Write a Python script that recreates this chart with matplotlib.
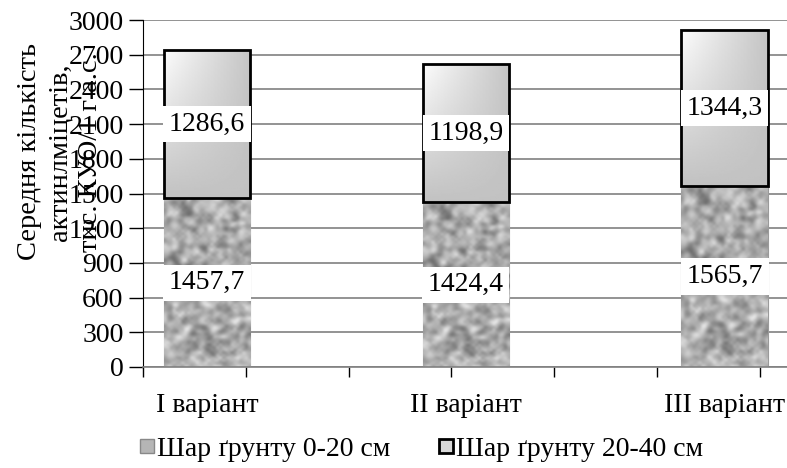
import numpy as np
import matplotlib
matplotlib.use("Agg")
import matplotlib.pyplot as plt
from matplotlib.lines import Line2D

plt.rcParams['font.family'] = ['Liberation Serif', 'DejaVu Serif']

categories = ['I варіант', 'II варіант', 'III варіант']
layer_0_20 = [1457.7, 1424.4, 1565.7]
layer_20_40 = [1286.6, 1198.9, 1344.3]
labels_0_20 = ['1457,7', '1424,4', '1565,7']
labels_20_40 = ['1286,6', '1198,9', '1344,3']
legend_names = ['Шар ґрунту 0-20 см', 'Шар ґрунту 20-40 см']

W, H = 787, 468
fig = plt.figure(figsize=(W / 100, H / 100), dpi=100)
ax = fig.add_axes([143 / W, 1 - 367 / H, (787 - 143) / W, (367 - 20) / H])

x = np.arange(len(categories))
width = 0.335

# granite-like texture for the lower layer (decoration only)
rng = np.random.default_rng(7)
tex = rng.random((64, 30))
tex = (tex + np.roll(tex, 1, 0) + np.roll(tex, -1, 0)
       + np.roll(tex, 1, 1) + np.roll(tex, -1, 1)) / 5
tex = (tex - tex.min()) / (tex.max() - tex.min())
tex = 0.36 + 0.6 * tex

# gradient for the upper layer: white top-left, grey lower down
gx = np.linspace(0, 1, 60)[None, :]
gy = np.linspace(0, 1, 100)[:, None]
top_row = 0.99 - 0.22 * gx
grad = top_row * (1 - gy) + 0.76 * gy

bars_low = ax.bar(x, layer_0_20, width, color='#a8a8a8', edgecolor='#9a9a9a',
                  linewidth=0.8, zorder=2)
bars_up = ax.bar(x, layer_20_40, width, bottom=layer_0_20, color='#c8c8c8',
                 edgecolor='none', zorder=3)
ax.bar(x, layer_20_40, width, bottom=layer_0_20, facecolor='none',
       edgecolor='black', linewidth=2.0, zorder=4)

for b in bars_low:
    x0, y0 = b.get_x(), b.get_y()
    im = ax.imshow(tex, cmap='gray', vmin=0, vmax=1, aspect='auto',
                   extent=[x0, x0 + b.get_width(), y0, y0 + b.get_height()],
                   zorder=2.5, interpolation='bicubic')
    im.set_clip_path(b)
for b in bars_up:
    x0, y0 = b.get_x(), b.get_y()
    im = ax.imshow(grad, cmap='gray', vmin=0, vmax=1, aspect='auto',
                   extent=[x0, x0 + b.get_width(), y0, y0 + b.get_height()],
                   zorder=3.5, interpolation='bilinear', origin='upper')
    im.set_clip_path(b)

box = dict(boxstyle='square,pad=0.2', facecolor='white', edgecolor='none')
for i in range(len(categories)):
    ax.text(x[i], layer_0_20[i] / 2, labels_0_20[i], ha='center', va='center',
            fontsize=20, bbox=box, zorder=5)
    ax.text(x[i], layer_0_20[i] + layer_20_40[i] / 2, labels_20_40[i],
            ha='center', va='center', fontsize=20, bbox=box, zorder=5)

ax.set_xlim(-0.247, 2.24)
ax.set_ylim(0, 3000)
ax.set_yticks(np.arange(0, 3001, 300))
ax.tick_params(axis='y', labelsize=20, length=10, width=1, direction='out',
               pad=4)
ax.yaxis.grid(True, color='#808080', linewidth=1.2)
ax.set_axisbelow(True)

ax.set_xticks(x)
ax.set_xticklabels(categories, fontsize=20)
ax.tick_params(axis='x', length=0, pad=19)
ax.set_xticks(np.arange(-0.247, 2.3, 0.397), minor=True)
ax.tick_params(axis='x', which='minor', length=7, width=1, color='black')

for s in ['top', 'right']:
    ax.spines[s].set_visible(False)
ax.spines['left'].set_color('black')
ax.spines['bottom'].set_color('#808080')
ax.spines['bottom'].set_linewidth(1.2)

fig.text(60 / W, 1 - 152 / H,
         'Середня кількість\nактинлміцетів,\nтис. КУО/1 г а.с.',
         rotation=90, ha='center', va='center', fontsize=20.5,
         linespacing=1.3)

handles = [
    Line2D([], [], marker='s', linestyle='none', markersize=10,
           markerfacecolor='#b5b5b5', markeredgecolor='#888888'),
    Line2D([], [], marker='s', linestyle='none', markersize=10,
           markerfacecolor='#d8d8d8', markeredgecolor='black',
           markeredgewidth=2),
]
fig.legend(handles, legend_names, loc='center',
           bbox_to_anchor=(421 / W, 1 - 449 / H),
           ncol=2, frameon=False, fontsize=20, handletextpad=0.05,
           columnspacing=1.7, handlelength=0.6, borderpad=0)

fig.savefig('out.png', dpi=100)
